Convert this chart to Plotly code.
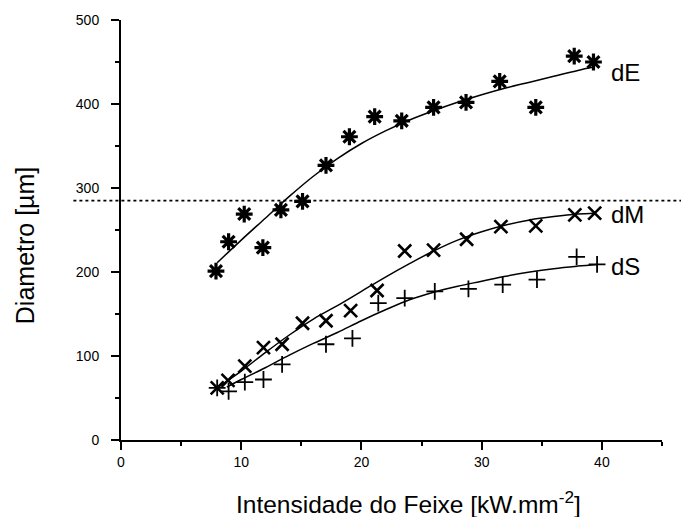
import plotly.graph_objects as go

# Measured beam intensity [kW/mm^2] and spot diameters [um]
dE_x = [7.9, 8.95, 10.25, 11.8, 13.3, 15.1, 17.05, 19.0, 21.1, 23.35, 26.0, 28.7, 31.5, 34.5, 37.7, 39.3]
dE_y = [201, 236, 269, 229, 274, 284, 327, 361, 385, 380, 396, 402, 427, 396, 457, 450]

dM_x = [8.0, 8.9, 10.3, 11.85, 13.4, 15.1, 17.05, 19.1, 21.3, 23.6, 26.0, 28.75, 31.6, 34.5, 37.75, 39.4]
dM_y = [62, 71, 88, 110, 114, 139, 142, 154, 178, 225, 226, 239, 254, 255, 268, 270]

dS_x = [8.0, 8.95, 10.3, 11.85, 13.4, 17.05, 19.25, 21.4, 23.6, 26.1, 28.9, 31.75, 34.6, 37.9, 39.6]
dS_y = [62, 58, 69, 72, 90, 114, 121, 163, 169, 177, 180, 185, 191, 218, 209]

# Fitted trend curves
dE_fit_x = [8.0, 10, 12, 14, 16, 18, 20, 22, 24, 26, 28, 30, 32, 34, 36, 38, 39.3]
dE_fit_y = [211, 238, 264, 290, 314, 335, 353, 368, 381, 392, 402, 411, 419, 426, 433, 440, 444]

dM_fit_x = [8.2, 10, 12, 14, 16, 18, 20, 22, 24, 26, 28, 30, 32, 34, 36, 38, 39.4]
dM_fit_y = [64, 82, 104, 125, 144, 160, 177, 194, 210, 225, 238, 248, 256, 262, 266, 269, 270]

dS_fit_x = [8.8, 10, 12, 14, 16, 18, 20, 22, 24, 26, 28, 30, 32, 34, 36, 38, 39.6]
dS_fit_y = [63, 72, 86, 101, 115, 128, 142, 155, 167, 176, 183, 189, 195, 200, 204, 207, 209]

series_labels = ["dE", "dM", "dS"]
label_x = [40.6, 40.6, 40.6]
label_y = [437, 268, 206]

threshold = 285

FONT = "Liberation Sans, Arial, Helvetica, sans-serif"

fig = go.Figure()

for fx, fy in [(dE_fit_x, dE_fit_y), (dM_fit_x, dM_fit_y), (dS_fit_x, dS_fit_y)]:
    fig.add_trace(go.Scatter(x=fx, y=fy, mode="lines",
                             line=dict(color="black", width=1.5, shape="spline", smoothing=1.0),
                             hoverinfo="skip", showlegend=False))

fig.add_trace(go.Scatter(x=dE_x, y=dE_y, mode="markers", name="dE",
                         marker=dict(symbol="asterisk-open", size=14, color="black",
                                     line=dict(color="black", width=3.2))))
fig.add_trace(go.Scatter(x=dM_x, y=dM_y, mode="markers", name="dM",
                         marker=dict(symbol="x-thin-open", size=13, color="black",
                                     line=dict(color="black", width=2.6))))
fig.add_trace(go.Scatter(x=dS_x, y=dS_y, mode="markers", name="dS",
                         marker=dict(symbol="cross-thin-open", size=12, color="black",
                                     line=dict(color="black", width=1.8))))

for txt, lx, ly in zip(series_labels, label_x, label_y):
    fig.add_annotation(x=lx, y=ly, text=txt, showarrow=False, xanchor="left", yanchor="middle",
                       font=dict(family=FONT, size=24, color="black"))

# Dotted reference level across the whole figure width
fig.add_shape(type="line", xref="paper", yref="y", x0=-0.088, x1=1.04, y0=threshold, y1=threshold,
              line=dict(color="black", width=1.6, dash="dot"))

# Axis titles
fig.add_annotation(xref="paper", yref="paper", x=0.532, y=-0.149, text="Intensidade do Feixe [kW.mm<sup>-2</sup>]",
                   showarrow=False, xanchor="center", yanchor="middle",
                   font=dict(family=FONT, size=24.5, color="black"))
fig.add_annotation(xref="paper", yref="paper", x=-0.177, y=0.462, text="Diametro [µm]", textangle=-90,
                   showarrow=False, xanchor="center", yanchor="middle",
                   font=dict(family=FONT, size=25, color="black"))

axis_common = dict(showgrid=False, zeroline=False, showline=True, linecolor="black", linewidth=2,
                   ticks="outside", tickcolor="black", tickwidth=2, ticklen=8,
                   tickfont=dict(family=FONT, size=14, color="black"))

fig.update_xaxes(range=[0, 45], tickvals=[0, 10, 20, 30, 40],
                 minor=dict(ticks="outside", ticklen=4, tickwidth=2, dtick=5, tickcolor="black"),
                 **axis_common)
fig.update_yaxes(range=[0, 500], tickvals=[0, 100, 200, 300, 400, 500], ticklabelstandoff=9,
                 minor=dict(ticks="outside", ticklen=4, tickwidth=2, dtick=50, tickcolor="black"),
                 **axis_common)

fig.update_layout(width=681, height=517, margin=dict(l=121, r=19, t=20, b=77),
                  paper_bgcolor="white", plot_bgcolor="white", showlegend=False)

fig.write_html("out.html")
